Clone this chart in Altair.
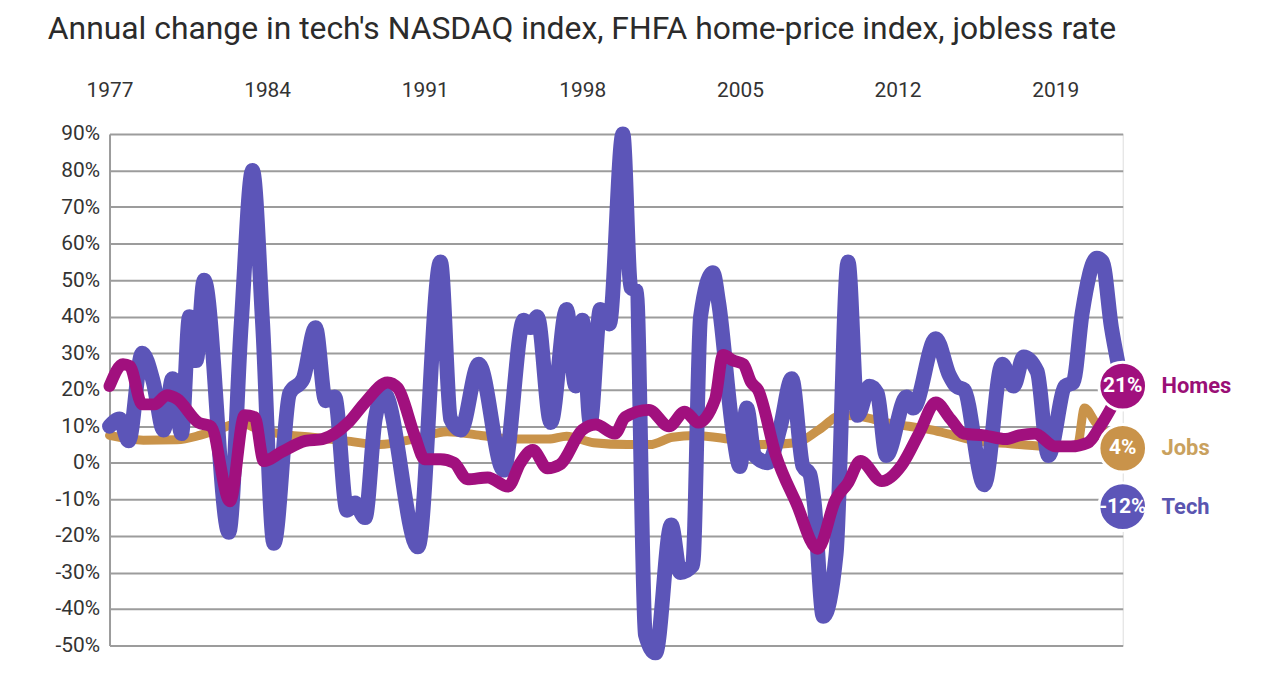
import altair as alt
import pandas as pd

# ---- data ----
tech_years = [1977.0, 1977.45, 1977.85, 1978.45, 1978.95, 1979.4, 1979.8, 1980.2, 1980.55, 1980.85,
              1981.2, 1982.3, 1982.85, 1983.35, 1983.8, 1984.3, 1985.0, 1985.6, 1986.15, 1986.6,
              1987.0, 1987.55, 1987.9, 1988.35, 1988.8, 1989.2, 1990.7, 1991.7, 1992.15, 1992.6,
              1993.4, 1994.5, 1995.4, 1995.7, 1996.0, 1996.6, 1997.3, 1997.7, 1998.0, 1998.35,
              1998.8, 1999.2, 1999.8, 2000.15, 2000.4, 2000.8, 2001.25, 2001.95, 2002.35, 2002.9,
              2003.25, 2003.8, 2004.05, 2004.7, 2005.0, 2005.3, 2005.65, 2006.25, 2006.8, 2007.3,
              2007.8, 2008.1, 2008.3, 2008.7, 2009.27, 2009.8, 2010.23, 2010.75, 2011.1, 2011.5,
              2012.4, 2012.7, 2013.7, 2014.3, 2014.6, 2014.95, 2015.85, 2016.65, 2017.15, 2017.6,
              2018.2, 2018.7, 2019.45, 2019.8, 2020.2, 2020.85, 2021.1, 2021.5, 2021.8]
tech_values = [10, 12, 6, 30, 22, 9, 23, 8, 40, 28,
               50, -19, 38, 80, 38, -22, 19, 23, 37, 17,
               18, -13, -11, -15, 12, 19, -23, 55, 12, 9,
               27, -2, 39, 37, 40, 11, 42, 21, 39, 11,
               42, 38, 90, 48, 47, -47, -52, -17, -30, -28,
               40, 52, 44, 8, -1, 15, 2, 0, 10, 23,
               -1, -3, -11, -42, -25, 55, 13, 21, 19, 2,
               18, 15, 34, 24, 21, 20, -6, 27, 21, 29,
               25, 2, 21, 22, 41, 56, 55, 37, 27]

homes_years = [1977.0, 1977.6, 1977.9, 1978.45, 1979.0, 1979.55, 1980.0, 1980.95, 1981.5, 1982.35,
               1983.0, 1983.45, 1983.85, 1984.65, 1985.7, 1986.45, 1987.6, 1988.35, 1989.35, 1989.8,
               1990.55, 1991.0, 1991.7, 1992.3, 1992.9, 1993.8, 1994.7, 1995.25, 1995.8, 1996.45,
               1997.0, 1998.0, 1998.6, 1999.45, 1999.9, 2000.95, 2001.85, 2002.55, 2003.15, 2003.9,
               2004.25, 2004.7, 2005.15, 2005.5, 2005.8, 2006.6, 2007.5, 2008.45, 2009.25, 2009.8,
               2010.35, 2011.3, 2012.2, 2012.95, 2013.7, 2014.35, 2014.95, 2015.85, 2016.8, 2017.4,
               2018.1, 2019.0, 2019.7, 2020.45, 2021.05, 2022.0]
homes_values = [21, 27, 26.5, 16, 16, 18.5, 17.5, 11, 10, -10.5,
                13, 12.5, 0.5, 3, 6, 6.5, 11, 16.5, 22, 20.5,
                7.5, 1, 1, 0, -4.5, -4, -6.5, 0, 3.5, -1.5,
                -0.5, 9, 10.5, 8, 12.5, 14.5, 10, 14, 11, 17.5,
                29.5, 28, 27, 22, 20, 2, -11, -23.5, -10, -5.5,
                0.5, -5, -0.5, 8, 16.5, 12, 8, 7.5, 6.5, 7.5,
                8, 4.5, 4.5, 5.5, 10.5, 21]

jobs_years = [1977.0, 1978.5, 1980.0, 1981.0, 1982.0, 1982.8, 1983.5, 1984.5, 1986.0, 1987.5,
              1989.0, 1990.5, 1992.0, 1993.5, 1995.0, 1996.5, 1997.3, 1998.5, 2000.0, 2001.0,
              2002.0, 2003.0, 2004.5, 2006.0, 2007.5, 2008.5, 2009.5, 2010.5, 2011.5, 2012.5,
              2013.5, 2014.5, 2015.5, 2017.0, 2018.5, 2019.5, 2020.0, 2020.3, 2020.8, 2021.5, 2022.0]
jobs_values = [7.5, 6.2, 6.3, 7.5, 9.5, 11, 9.5, 8, 7, 6,
               5, 6.5, 8.5, 7.5, 6.5, 6.5, 7.3, 5.5, 5, 5,
               7, 7.5, 6.5, 5, 5.5, 9, 13, 12.5, 11, 10,
               9, 7.5, 6, 5.2, 4.5, 4.2, 5, 15, 11, 7, 4]

# latest readings shown in the end circles
series_names = ["Homes", "Jobs", "Tech"]
latest_year = 2022.0
latest_values = [21, 4, -12]
series_colors = ["#a1107e", "#c9934a", "#5c55b8"]
label_colors = ["#9a0f76", "#c9a15e", "#5a55b0"]
year_ticks = [1977, 1984, 1991, 1998, 2005, 2012, 2019]
pct_ticks = list(range(-50, 91, 10))
title_text = "Annual change in tech's NASDAQ index, FHFA home-price index, jobless rate"

rows = []
for name, ys, vs in [("Tech", tech_years, tech_values),
                     ("Homes", homes_years, homes_values),
                     ("Jobs", jobs_years, jobs_values)]:
    for yv, vv in zip(ys, vs):
        rows.append({"series": name, "year": yv, "value": vv})
df = pd.DataFrame(rows)

df_end = pd.DataFrame({"series": series_names,
                       "year": [latest_year] * 3,
                       "value": latest_values,
                       "pct": [f"{v:g}%" for v in latest_values]})

FONT = "Roboto"
GRID = "#9c9c9c"

x_scale = alt.Scale(domain=[1977, 2022], nice=False, zero=False)
y_scale = alt.Scale(domain=[-50, 90], nice=False, zero=False)
x_axis = alt.Axis(orient="top", values=year_ticks, format="d", domain=False,
                  ticks=False, grid=False, labelFont=FONT, labelFontSize=21,
                  labelColor="#333333", labelPadding=34, title=None,
                  labelFlush=False, labelOverlap=False)
y_axis = alt.Axis(values=pct_ticks, labelExpr="datum.value + '%'", domain=True,
                  domainColor=GRID, domainWidth=2, ticks=False, grid=True,
                  gridColor=GRID, gridWidth=2, labelFont=FONT, labelFontSize=21,
                  labelColor="#333333", labelPadding=10, title=None,
                  labelOverlap=False, labelFlush=False)
x_enc = alt.X("year:Q", scale=x_scale, axis=x_axis)
y_enc = alt.Y("value:Q", scale=y_scale, axis=y_axis)

color_scale = alt.Scale(domain=series_names, range=series_colors)
label_scale = alt.Scale(domain=series_names, range=label_colors)


def line_layer(name, width):
    c = series_colors[series_names.index(name)]
    return (alt.Chart(df)
            .transform_filter(alt.datum.series == name)
            .mark_line(color=c, strokeWidth=width, strokeCap="round", strokeJoin="round",
                       interpolate="monotone")
            .encode(x=x_enc, y=y_enc))


jobs_line = line_layer("Jobs", 9)
tech_line = line_layer("Tech", 15)
homes_line = line_layer("Homes", 12)

end_base = alt.Chart(df_end).encode(x=x_enc, y=y_enc)
circles = end_base.mark_point(shape="circle", filled=True, size=2290, opacity=1,
                              stroke="white", strokeWidth=3, strokeOpacity=1).encode(
    color=alt.Color("series:N", scale=color_scale, legend=None))
circle_text = end_base.mark_text(font=FONT, fontSize=21, fontWeight="bold", color="white",
                                 baseline="middle", align="center").encode(text="pct:N")
side_text = end_base.mark_text(font=FONT, fontSize=22, fontWeight="bold", align="left",
                               baseline="middle", dx=39).encode(
    text="series:N", color=alt.Color("series:N", scale=label_scale, legend=None))

chart = (alt.layer(jobs_line, tech_line, homes_line, circles, circle_text, side_text)
         .resolve_scale(color="independent")
         .properties(width=1018, height=514,
                     title=alt.TitleParams(title_text, anchor="start", frame="group",
                                           dx=-62, offset=33, font=FONT, fontSize=32,
                                           fontWeight="normal", color="#2b2b2b"),
                     autosize=alt.AutoSizeParams(type="none"),
                     padding={"left": 102, "top": 125, "right": 150, "bottom": 20})
         .configure_view(stroke=None)
         .configure(background="white"))

chart.save("out.html", embed_options={"renderer": "svg", "actions": False})
